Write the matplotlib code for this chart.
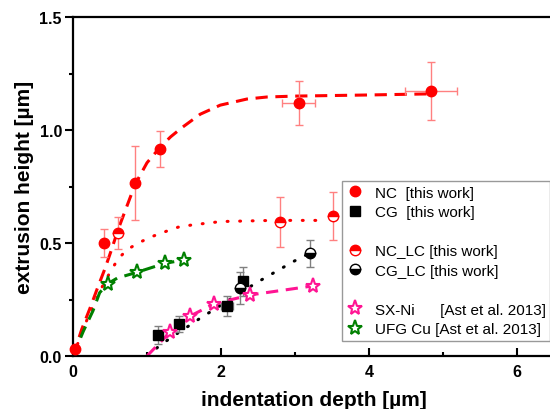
import matplotlib
matplotlib.use('Agg')
import matplotlib.pyplot as plt
from matplotlib.lines import Line2D
import numpy as np

plt.rcParams['font.family'] = ['Liberation Sans', 'DejaVu Sans']

# ---------------- data ----------------
nc_x = [0.03, 0.42, 0.84, 1.18, 3.05, 4.84]
nc_y = [0.03, 0.50, 0.765, 0.915, 1.12, 1.173]
nc_yerr = [0.0, 0.06, 0.165, 0.08, 0.097, 0.13]
nc_xerr = [0.0, 0.0, 0.0, 0.0, 0.22, 0.35]

nclc_x = [0.61, 2.80, 3.51]
nclc_y = [0.545, 0.593, 0.62]
nclc_yerr = [0.07, 0.11, 0.107]

cg_x = [1.15, 1.43, 2.08, 2.30]
cg_y = [0.093, 0.142, 0.22, 0.33]
cg_yerr = [0.04, 0.035, 0.045, 0.063]
cg_xerr = [0.0, 0.0, 0.08, 0.0]

cglc_x = [2.26, 3.20]
cglc_y = [0.30, 0.455]
cglc_yerr = [0.07, 0.06]

sx_x = [1.31, 1.58, 1.90, 2.39, 3.24]
sx_y = [0.105, 0.176, 0.23, 0.27, 0.31]
sx_line_x = [1.0, 1.31, 1.58, 1.90, 2.39, 3.24]
sx_line_y = [0.0, 0.105, 0.176, 0.23, 0.27, 0.31]

ufg_x = [0.47, 0.86, 1.24, 1.50]
ufg_y = [0.32, 0.37, 0.41, 0.425]
ufg_line_x = [0.0, 0.14, 0.27, 0.36, 0.47, 0.60, 0.86, 1.24, 1.50]
ufg_line_y = [0.0, 0.11, 0.20, 0.28, 0.32, 0.345, 0.37, 0.41, 0.425]

ncfit_x = [0.0, 0.12, 0.24, 0.33, 0.43, 0.52, 0.61, 0.84, 1.0, 1.18, 1.32, 1.47, 1.72,
           1.99, 2.35, 2.62, 3.0, 4.0, 4.85]
ncfit_y = [0.0, 0.12, 0.22, 0.30, 0.385, 0.47, 0.56, 0.76, 0.855, 0.925, 0.97, 1.01, 1.07,
           1.11, 1.137, 1.146, 1.15, 1.155, 1.16]

nclcfit_x = [0.0, 0.2, 0.4, 0.5, 0.61, 0.73, 0.88, 1.08, 1.27, 1.42, 1.61, 2.0, 2.7, 3.4]
nclcfit_y = [0.0, 0.17, 0.31, 0.37, 0.43, 0.47, 0.50, 0.53, 0.553, 0.57, 0.58, 0.595, 0.60, 0.60]

cgfit_x = [1.0, 1.15, 1.31, 1.47, 1.61, 1.74, 1.88, 2.19, 2.36, 2.51, 2.68, 2.84, 2.99, 3.2]
cgfit_y = [0.0, 0.04, 0.078, 0.113, 0.143, 0.172, 0.20, 0.265, 0.30, 0.33, 0.362, 0.392, 0.42, 0.455]

x_ticks = [0, 2, 4, 6]
y_ticks = [0.0, 0.5, 1.0, 1.5]
y_ticklabels = ['0.0', '0.5', '1.0', '1.5']

legend_labels = ['NC  [this work]', 'CG  [this work]', ' ',
                 'NC_LC [this work]', 'CG_LC [this work]', ' ',
                 'SX-Ni      [Ast et al. 2013]', 'UFG Cu [Ast et al. 2013]']

# ---------------- styling ----------------
RED = '#ff0000'
RED_ERR = '#ff8080'
GRAY_ERR = '#808080'
PINK = '#ff1493'
GREEN = '#008000'

fig = plt.figure(figsize=(5.5, 4.1), dpi=100)
ax = fig.add_axes([73/550, 53/410, 481/550, 339/410])

# fit lines
l, = ax.plot(ncfit_x, ncfit_y, color=RED, lw=2.2, zorder=2)
l.set_dashes([4, 2.5])
l, = ax.plot(nclcfit_x, nclcfit_y, color=RED, lw=2.2, zorder=2, dash_capstyle='round')
l.set_dashes([0.3, 3.8])
l, = ax.plot(cgfit_x, cgfit_y, color='black', lw=2.2, zorder=2, dash_capstyle='round')
l.set_dashes([0.3, 3.8])
l, = ax.plot(sx_line_x, sx_line_y, color=PINK, lw=2.2, zorder=2)
l.set_dashes([4, 2.5])
l, = ax.plot(ufg_line_x, ufg_line_y, color=GREEN, lw=2.2, zorder=2)
l.set_dashes([4, 2.5])

# error bars
def ebars(x, y, yerr, xerr, color):
    x = np.asarray(x); y = np.asarray(y)
    yerr = np.asarray(yerr)
    m = yerr > 0
    ax.errorbar(x[m], y[m], yerr=yerr[m], fmt='none', ecolor=color,
                elinewidth=1, capsize=3, capthick=1, zorder=3)
    if xerr is not None:
        xerr = np.asarray(xerr)
        mx = xerr > 0
        ax.errorbar(x[mx], y[mx], xerr=xerr[mx], fmt='none', ecolor=color,
                    elinewidth=1, capsize=3, capthick=1, zorder=3)

ebars(nc_x, nc_y, nc_yerr, nc_xerr, RED_ERR)
ebars(nclc_x, nclc_y, nclc_yerr, None, RED_ERR)
ebars(cg_x, cg_y, cg_yerr, cg_xerr, GRAY_ERR)
ebars(cglc_x, cglc_y, cglc_yerr, None, GRAY_ERR)

# markers
ax.plot(nc_x, nc_y, 'o', ms=7.5, color=RED, mec=RED, zorder=4, clip_on=False)
ax.plot(cg_x, cg_y, 's', ms=6.5, color='black', zorder=4)
ax.plot(nclc_x, nclc_y, 'o', ms=7.5, mfc=RED, mfcalt='white', mec=RED,
        fillstyle='top', mew=1, zorder=4)
ax.plot(cglc_x, cglc_y, 'o', ms=7.5, mfc='black', mfcalt='white', mec='black',
        fillstyle='bottom', mew=1, zorder=4)
ax.plot(sx_x, sx_y, '*', ms=11, mfc='white', mec=PINK, mew=1.5, zorder=4)
ax.plot(ufg_x, ufg_y, '*', ms=11, mfc='white', mec=GREEN, mew=1.5, zorder=4)

# axes
ax.set_xlim(0, 6.5)
ax.set_ylim(0, 1.5)
ax.set_xticks(x_ticks)
ax.set_xticks([1, 3, 5], minor=True)
ax.set_yticks(y_ticks)
ax.set_yticklabels(y_ticklabels)
ax.set_yticks([0.25, 0.75, 1.25], minor=True)
for s in ['left', 'bottom', 'top']:
    ax.spines[s].set_linewidth(1.6)
ax.spines['right'].set_visible(False)
ax.tick_params(axis='y', which='major', direction='out', length=6, width=1.5, pad=2,
               labelsize=11.5)
ax.tick_params(axis='y', which='minor', direction='out', length=3, width=1.5)
ax.tick_params(axis='x', which='major', direction='in', length=6, width=1.5, pad=6,
               labelsize=11.5)
ax.tick_params(axis='x', which='minor', direction='in', length=3, width=1.5)
for t in ax.get_xticklabels() + ax.get_yticklabels():
    t.set_fontweight('bold')

ax.set_xlabel('indentation depth [µm]', fontsize=15, fontweight='bold', labelpad=8)
ax.set_ylabel('extrusion height [µm]', fontsize=15, fontweight='bold', labelpad=4)

# legend
handles = [
    Line2D([], [], ls='none', marker='o', ms=7.5, color=RED),
    Line2D([], [], ls='none', marker='s', ms=6.5, color='black'),
    Line2D([], [], ls='none', marker=None),
    Line2D([], [], ls='none', marker='o', ms=7.5, mfc=RED, mfcalt='white', mec=RED,
           fillstyle='top', mew=1),
    Line2D([], [], ls='none', marker='o', ms=7.5, mfc='black', mfcalt='white', mec='black',
           fillstyle='bottom', mew=1),
    Line2D([], [], ls='none', marker=None),
    Line2D([], [], ls='none', marker='*', ms=11, mfc='white', mec=PINK, mew=1.5),
    Line2D([], [], ls='none', marker='*', ms=11, mfc='white', mec=GREEN, mew=1.5),
]
leg = fig.legend(handles, legend_labels, loc='upper left',
                 bbox_to_anchor=(342/550, 1 - 182/410), bbox_transform=fig.transFigure,
                 fontsize=11, frameon=True, fancybox=False, borderaxespad=0,
                 handlelength=1.1, handletextpad=0.75, labelspacing=0.36,
                 borderpad=0.3)
leg.get_frame().set_edgecolor('#808080')
leg.get_frame().set_linewidth(1)

fig.savefig('out.png', dpi=100)
